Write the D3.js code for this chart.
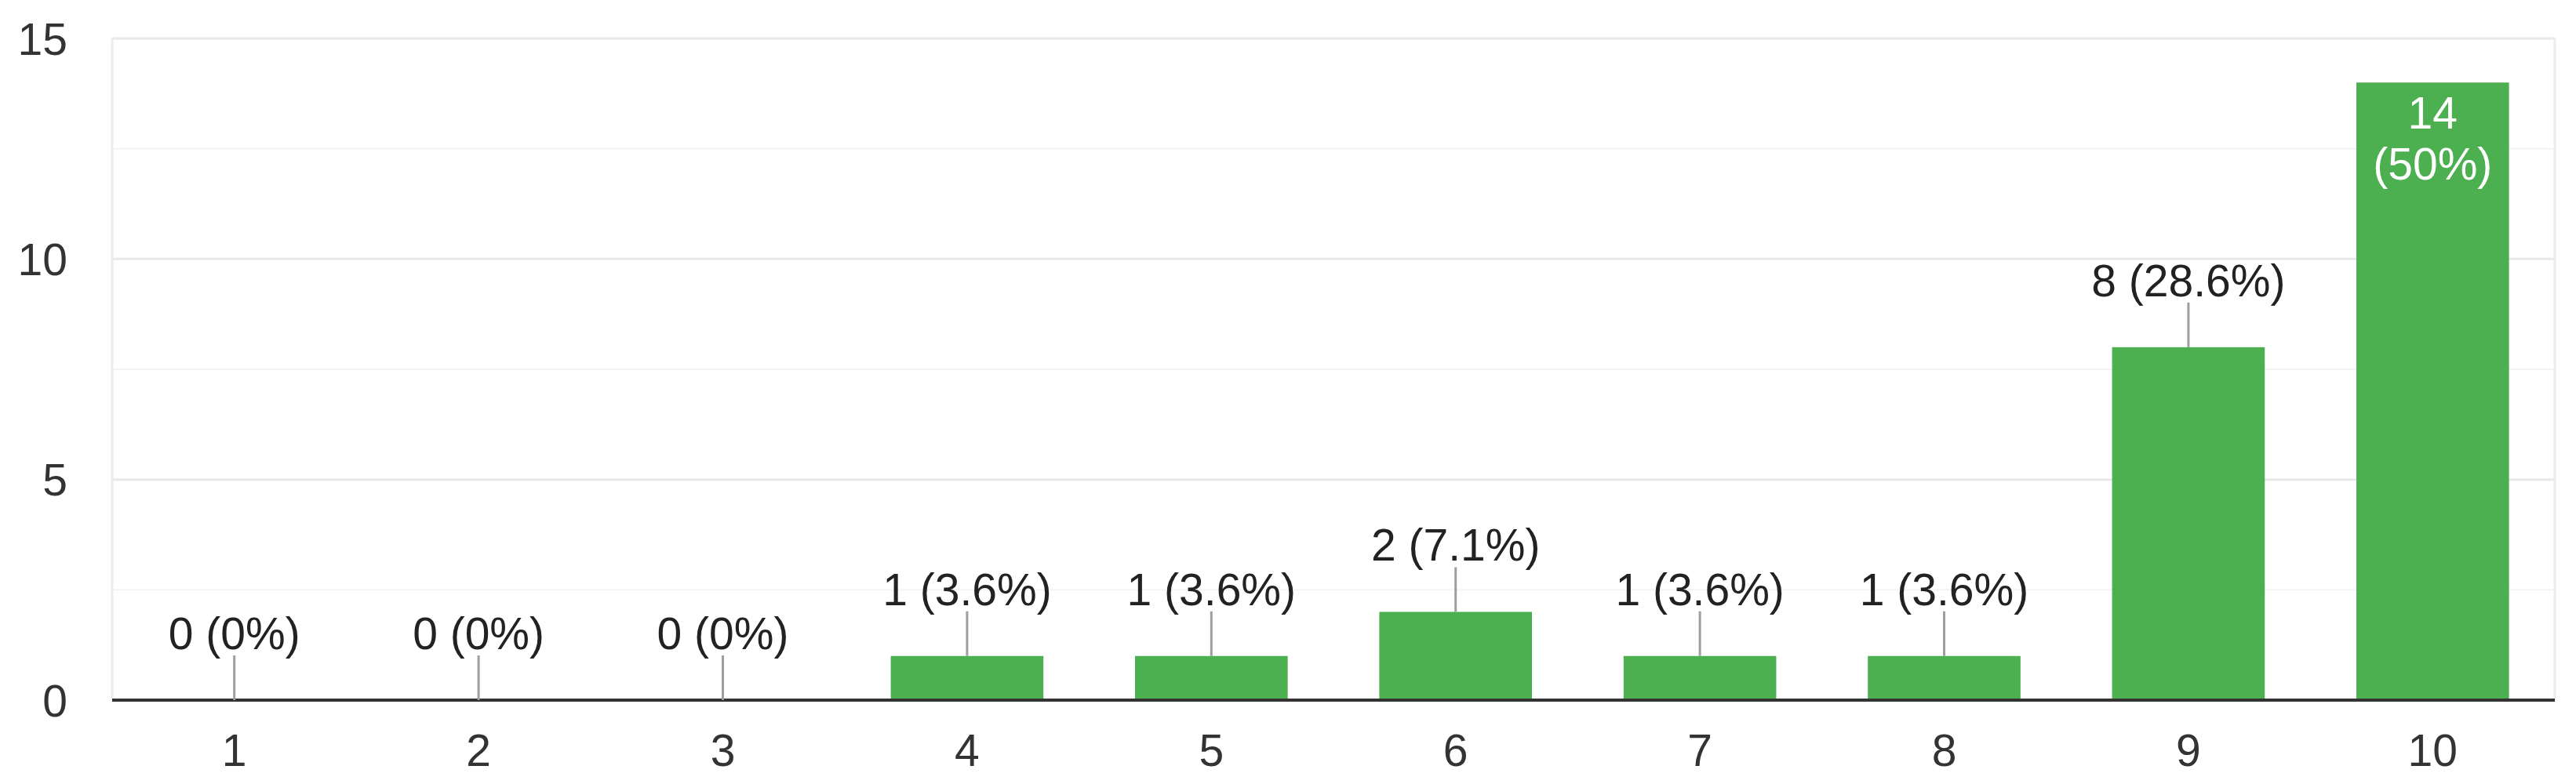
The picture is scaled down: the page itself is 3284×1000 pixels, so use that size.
<!DOCTYPE html>
<html>
<head>
<meta charset="utf-8">
<script src="https://cdn.jsdelivr.net/npm/d3@7"></script>
<style>
  body { margin: 0; background: #fff; }
  text { font-family: "Liberation Sans", Arial, sans-serif; }
</style>
</head>
<body>
<svg id="chart" width="3284" height="1000"></svg>
<script>
// data
var categories = ["1", "2", "3", "4", "5", "6", "7", "8", "9", "10"]
var counts = [0, 0, 0, 1, 1, 2, 1, 1, 8, 14]
var percents = ["0%", "0%", "0%", "3.6%", "3.6%", "7.1%", "3.6%", "3.6%", "28.6%", "50%"]
var yTicks = [0, 5, 10, 15]
var yMinorTicks = [2.5, 7.5, 12.5]

var svg = d3.select("#chart")
// note: "top" is a read-only window global, so use other names
var plotLeft = 143, plotRight = 3257, plotTop = 49, plotBottom = 893
var fontSize = 57

var x = d3.scaleBand().domain(categories).range([plotLeft, plotRight]).paddingInner(0.375).paddingOuter(0.1875)
var y = d3.scaleLinear().domain([0, 15]).range([plotBottom, plotTop])

var data = categories.map(function(c, i) { return { cat: c, n: counts[i], pct: percents[i] } })

// grid
svg.append("g").selectAll("line.minor")
  .data(yMinorTicks)
  .enter().append("line")
  .attr("x1", plotLeft).attr("x2", plotRight)
  .attr("y1", function(d) { return y(d) }).attr("y2", function(d) { return y(d) })
  .attr("stroke", "#f4f4f4").attr("stroke-width", 2)

svg.append("g").selectAll("line.major")
  .data(yTicks.filter(function(d) { return d > 0 }))
  .enter().append("line")
  .attr("x1", plotLeft).attr("x2", plotRight)
  .attr("y1", function(d) { return y(d) }).attr("y2", function(d) { return y(d) })
  .attr("stroke", "#e8e8e8").attr("stroke-width", 3)

// side borders
svg.append("g").selectAll("line.side")
  .data([plotLeft, plotRight])
  .enter().append("line")
  .attr("x1", function(d) { return d }).attr("x2", function(d) { return d })
  .attr("y1", plotTop).attr("y2", plotBottom)
  .attr("stroke", "#ececec").attr("stroke-width", 3)

// y labels
svg.append("g").selectAll("text")
  .data(yTicks)
  .enter().append("text")
  .attr("x", 86)
  .attr("y", function(d) { return y(d) })
  .attr("dy", "0.36em")
  .attr("text-anchor", "end")
  .attr("font-size", fontSize)
  .attr("fill", "#333")
  .text(function(d) { return d })

// bars
svg.append("g").selectAll("rect")
  .data(data)
  .enter().append("rect")
  .attr("x", function(d) { return x(d.cat) })
  .attr("width", x.bandwidth())
  .attr("y", function(d) { return y(d.n) })
  .attr("height", function(d) { return plotBottom - y(d.n) })
  .attr("fill", "#4caf50")

// baseline
svg.append("line")
  .attr("x1", plotLeft).attr("x2", plotRight)
  .attr("y1", plotBottom).attr("y2", plotBottom)
  .attr("stroke", "#333").attr("stroke-width", 4)

// x labels
svg.append("g").selectAll("text")
  .data(categories)
  .enter().append("text")
  .attr("x", function(d) { return x(d) + x.bandwidth() / 2 })
  .attr("y", 977)
  .attr("text-anchor", "middle")
  .attr("font-size", fontSize)
  .attr("fill", "#333")
  .text(function(d) { return d })

// value labels: above with leader line, inside the bar if no room
var outside = data.filter(function(d) { return y(d.n) - 80 > plotTop })
var inside = data.filter(function(d) { return y(d.n) - 80 <= plotTop })

var lab = svg.append("g")
lab.selectAll("line")
  .data(outside)
  .enter().append("line")
  .attr("x1", function(d) { return x(d.cat) + x.bandwidth() / 2 })
  .attr("x2", function(d) { return x(d.cat) + x.bandwidth() / 2 })
  .attr("y1", function(d) { return y(d.n) })
  .attr("y2", function(d) { return y(d.n) - 57 })
  .attr("stroke", "#9e9e9e").attr("stroke-width", 3)

lab.selectAll("text.out")
  .data(outside)
  .enter().append("text")
  .attr("x", function(d) { return x(d.cat) + x.bandwidth() / 2 })
  .attr("y", function(d) { return y(d.n) - 65 })
  .attr("text-anchor", "middle")
  .attr("font-size", fontSize)
  .attr("fill", "#222")
  .text(function(d) { return d.n + " (" + d.pct + ")" })

var inTxt = lab.selectAll("text.in")
  .data(inside)
  .enter().append("text")
  .attr("text-anchor", "middle")
  .attr("font-size", fontSize)
  .attr("fill", "#fff")
inTxt.append("tspan")
  .attr("x", function(d) { return x(d.cat) + x.bandwidth() / 2 })
  .attr("y", function(d) { return y(d.n) + 59 })
  .text(function(d) { return d.n })
inTxt.append("tspan")
  .attr("x", function(d) { return x(d.cat) + x.bandwidth() / 2 })
  .attr("y", function(d) { return y(d.n) + 124 })
  .text(function(d) { return "(" + d.pct + ")" })
</script>
</body>
</html>
